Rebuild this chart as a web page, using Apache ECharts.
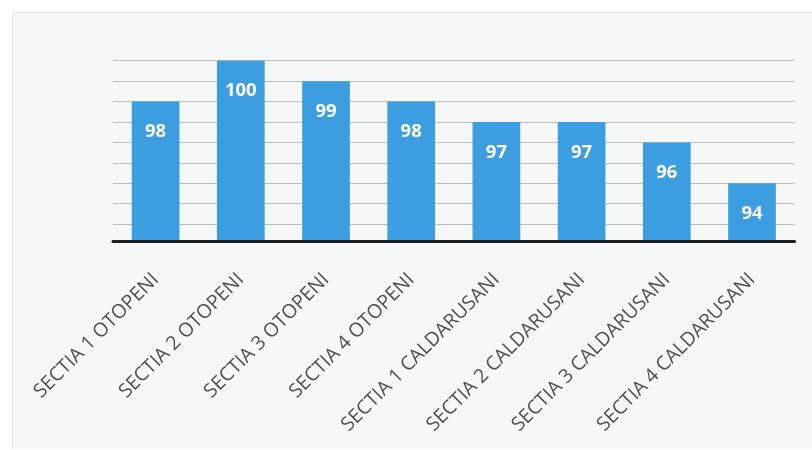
<!DOCTYPE html>
<html>
<head>
<meta charset="utf-8">
<script src="https://cdn.jsdelivr.net/npm/echarts@6/dist/echarts.min.js"></script>
<style>
  html, body { margin: 0; padding: 0; background: #ffffff; }
  #frame { position: absolute; left: 12px; top: 12px; width: 812px; height: 436px;
           background: #f6f7f7; border-top: 1px solid #e2e4e4; border-left: 1px solid #e6e8e8; }
  #chart { position: absolute; left: 0; top: 0; width: 812px; height: 450px; }
</style>
</head>
<body>
<div id="frame"></div>
<div id="chart"></div>
<script>
// Sections and their scores
const categories = [
  'SECTIA 1 OTOPENI', 'SECTIA 2 OTOPENI', 'SECTIA 3 OTOPENI', 'SECTIA 4 OTOPENI',
  'SECTIA 1 CALDARUSANI', 'SECTIA 2 CALDARUSANI', 'SECTIA 3 CALDARUSANI', 'SECTIA 4 CALDARUSANI'
];
const scores = [98, 100, 99, 98, 97, 97, 96, 94];
// Horizontal guide lines drawn at whole values
const gridValues = [92, 93, 94, 95, 96, 97, 98, 99, 100];

const chart = echarts.init(document.getElementById('chart'), null, { renderer: 'canvas' });

chart.setOption({
  backgroundColor: 'transparent',
  animation: false,
  grid: { left: 113, right: 17.4, top: 60.7, bottom: 208.5 },
  xAxis: {
    type: 'category',
    data: categories,
    zlevel: 2,
    axisLine: { show: true, lineStyle: { color: '#1e1e1e', width: 3 } },
    axisTick: { show: false },
    axisLabel: {
      rotate: 45,
      interval: 0,
      margin: 35,
      color: '#505050',
      fontFamily: 'Open Sans',
      fontSize: 19.5
    }
  },
  yAxis: {
    type: 'value',
    min: 91.15,
    max: 100,
    show: false,
    splitLine: { show: false }
  },
  series: [
    {
      // carrier for the guide lines, on the bottom layer
      type: 'line',
      data: [],
      zlevel: 0,
      silent: true,
      markLine: {
        silent: true,
        symbol: 'none',
        label: { show: false },
        lineStyle: { color: '#bdbdbd', width: 1.2, type: 'solid' },
        data: gridValues.map(v => ({ yAxis: v }))
      }
    },
    {
      type: 'bar',
      data: scores,
      zlevel: 1,
      barWidth: '56%',
      itemStyle: { color: '#3c9de1' },
      label: {
        show: true,
        position: 'insideTop',
        distance: 21,
        color: '#ffffff',
        fontFamily: 'Open Sans',
        fontWeight: 'bold',
        fontSize: 18.5
      }
    }
  ]
});
</script>
</body>
</html>
